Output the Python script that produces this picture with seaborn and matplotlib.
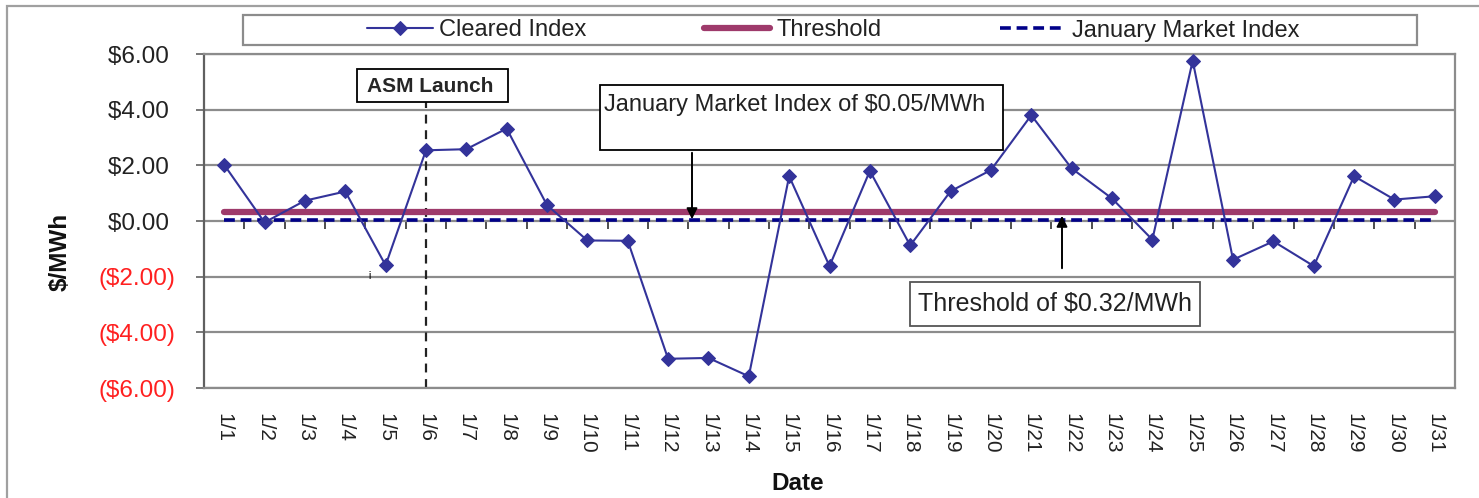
import matplotlib
matplotlib.use("Agg")
import matplotlib.pyplot as plt
import seaborn as sns
import pandas as pd
from matplotlib.patches import Rectangle

# ---- data ----
dates = [f"1/{d}" for d in range(1, 32)]
cleared_index = [2.02, -0.05, 0.73, 1.06, -1.59, 2.54, 2.58, 3.32, 0.57, -0.70,
                 -0.71, -4.95, -4.92, -5.58, 1.61, -1.62, 1.80, -0.88, 1.07, 1.83,
                 3.80, 1.89, 0.81, -0.67, 5.76, -1.39, -0.73, -1.62, 1.61, 0.77, 0.89]
threshold_value = 0.32
market_index_value = 0.05
y_ticks = [6, 4, 2, 0, -2, -4, -6]
y_tick_labels = ["$6.00 ", "$4.00 ", "$2.00 ", "$0.00 ", "($2.00)", "($4.00)", "($6.00)"]

df = pd.DataFrame({"Date": dates,
                   "Cleared Index": cleared_index,
                   "Threshold": [threshold_value] * len(dates),
                   "January Market Index": [market_index_value] * len(dates)})

sns.set_style("white")
plt.rcParams["font.family"] = ["Liberation Sans", "DejaVu Sans"]

W, H = 1479, 498
fig, ax = plt.subplots(figsize=(W / 100, H / 100), dpi=100)
fig.subplots_adjust(left=204 / W, right=1455 / W, top=1 - 54 / H, bottom=1 - 388 / H)

c_cleared = "#33339A"
c_thresh = "#9E3A6B"
c_market = "#000088"

# category-boundary ticks along the zero line, pointing down
sec = ax.secondary_xaxis(0.5)
sec.set_alignment("bottom")
sec.set_xticks([i - 0.5 for i in range(len(dates) + 1)])
sec.set_xticklabels([])
sec.tick_params(length=6, width=1.3, color="#404040", direction="out")
sec.spines["bottom"].set_color("#505050")
sec.spines["bottom"].set_linewidth(1.4)

sns.lineplot(data=df, x="Date", y="Threshold", ax=ax, color=c_thresh, lw=4.5,
             label="Threshold", zorder=3, sort=False)
sns.lineplot(data=df, x="Date", y="January Market Index", ax=ax, color=c_market, lw=2.6,
             linestyle=(0, (3, 1.6)), label="January Market Index", zorder=4, sort=False)
sns.lineplot(data=df, x="Date", y="Cleared Index", ax=ax, color=c_cleared, lw=1.5,
             marker="D", markersize=7.5, markeredgecolor=c_cleared,
             label="Cleared Index", zorder=5, sort=False)

ax.set_xlim(-0.5, len(dates) - 0.5)
ax.set_ylim(-6, 6)
ax.set_yticks(y_ticks)
ax.set_yticklabels(y_tick_labels)
for lab, v in zip(ax.get_yticklabels(), y_ticks):
    lab.set_color("#FF2020" if v < 0 else "#222222")
ax.tick_params(axis="y", labelsize=17.5, length=6, width=1.2, color="#606060",
               direction="out", left=True, pad=14.4)
ax.set_xticks(range(len(dates)))
ax.set_xticklabels(dates, rotation=270, fontsize=15, color="#222222")
ax.tick_params(axis="x", length=0, pad=18)

ax.yaxis.grid(True, color="#8C8C8C", lw=1.6)
ax.set_axisbelow(True)
for side in ["top", "right", "bottom"]:
    ax.spines[side].set_color("#8C8C8C")
    ax.spines[side].set_linewidth(1.6)
ax.spines["left"].set_color("#606060")
ax.spines["left"].set_linewidth(1.6)

ax.set_xlabel("Date", fontsize=17.5, fontweight="bold", color="#111111")
ax.xaxis.set_label_coords((797.5 - 204) / 1251, (388 - 472) / 334)
ax.set_ylabel("$/MWh", fontsize=17.5, fontweight="bold", color="#111111")
ax.yaxis.set_label_coords((72 - 204) / 1251, (388 - 251.5) / 334)

# legend (frameless) + frame rectangle
ax.get_legend().remove()
h, l = ax.get_legend_handles_labels()
order = [l.index("Cleared Index"), l.index("Threshold"), l.index("January Market Index")]
fig.legend([h[i] for i in order], [l[i] for i in order], ncol=3, frameon=False,
           loc="center", bbox_to_anchor=(833 / W, 1 - 30.5 / H), fontsize=17,
           handlelength=2.8, handletextpad=0.25, columnspacing=5.0,
           labelcolor="#222222")
fig.patches.append(Rectangle((243 / W, 1 - 45 / H), 1174 / W, 30 / H,
                             transform=fig.transFigure, fill=False,
                             edgecolor="#8C8C8C", lw=1.6))
# outer chart frame
fig.patches.append(Rectangle((7 / W, -0.2), 1.2, 0.2 + (1 - 6 / H),
                             transform=fig.transFigure, fill=False,
                             edgecolor="#A0A0A0", lw=1.6))

# ASM launch marker
ax.axvline(dates.index("1/6"), ymax=0.862, color="#222222", lw=1.6,
           linestyle=(0, (4, 3)), zorder=2)
ax.add_patch(Rectangle((153 / 1251, 286 / 334), 151 / 1251, 33 / 334,
                       transform=ax.transAxes, facecolor="white", edgecolor="black",
                       lw=1.3, zorder=6))
ax.text(226 / 1251, 302 / 334, "ASM Launch", transform=ax.transAxes, ha="center",
        va="center", fontsize=15, fontweight="bold", zorder=7)

# January Market Index callout
ax.add_patch(Rectangle((396 / 1251, 238 / 334), 403 / 1251, 65 / 334,
                       transform=ax.transAxes, facecolor="white", edgecolor="black",
                       lw=1.3, zorder=6))
ax.text(400 / 1251, 283 / 334, "January Market Index of $0.05/MWh", transform=ax.transAxes,
        ha="left", va="center", fontsize=17, color="#222222", zorder=7)
ax.annotate("", xy=(488 / 1251, 166 / 334), xytext=(488 / 1251, 238 / 334),
            xycoords="axes fraction",
            arrowprops=dict(arrowstyle="-|>", color="black", lw=1.4, mutation_scale=16),
            zorder=7)

# Threshold callout
ax.add_patch(Rectangle((706 / 1251, 62 / 334), 290 / 1251, 44 / 334,
                       transform=ax.transAxes, facecolor="white", edgecolor="#555555",
                       lw=1.3, zorder=6))
ax.text(851 / 1251, 84 / 334, "Threshold of $0.32/MWh", transform=ax.transAxes,
        ha="center", va="center", fontsize=18, color="#222222", zorder=7)
ax.annotate("", xy=(858 / 1251, 175 / 334), xytext=(858 / 1251, 117 / 334),
            xycoords="axes fraction",
            arrowprops=dict(arrowstyle="-|>", color="black", lw=1.4, mutation_scale=16),
            zorder=7)

ax.text(166 / 1251, 113 / 334, "¡", transform=ax.transAxes, ha="center", va="center",
        fontsize=9, color="black")

fig.savefig("out.png", dpi=100)
